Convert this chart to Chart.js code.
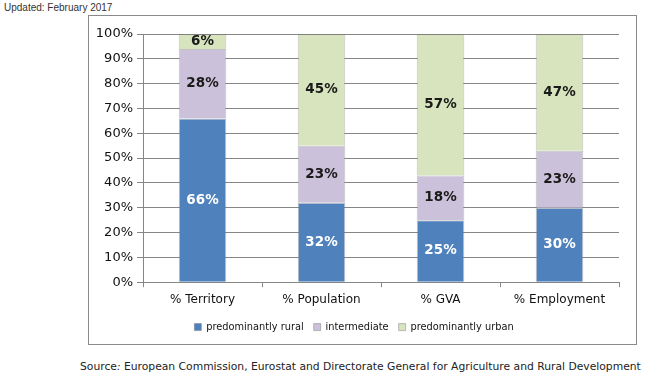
<!DOCTYPE html>
<html>
<head>
<meta charset="utf-8">
<script src="https://cdn.jsdelivr.net/npm/chart.js@4"></script>
<style>
  html, body { margin: 0; padding: 0; background: #fff; }
  body { width: 650px; height: 381px; position: relative; overflow: hidden; }
  #updated { position: absolute; left: 4px; top: 2px; font: 10px "Liberation Sans", Arial, sans-serif; color: #333; }
  #frame { position: absolute; left: 88px; top: 15px; width: 547px; height: 328px; border: 1px solid #8a8a8a; }
  #frame canvas { display: block; }
  #source { position: absolute; left: 80px; top: 360px; font: 10.75px "DejaVu Sans", Verdana, sans-serif; color: #222; white-space: nowrap; }
  #source i { font-style: italic; }
</style>
</head>
<body>
<div id="updated">Updated: February 2017</div>
<div id="frame"><canvas id="chart" width="547" height="328"></canvas></div>
<div id="source">Source<i>:</i> European Commission, Eurostat and Directorate General for Agriculture and Rural Development</div>
<script>
// Valeurs (en %)
const categories = ['% Territory', '% Population', '% GVA', '% Employment'];
const rural = [66, 32, 25, 30];
const intermediate = [28, 23, 18, 23];
const urban = [6, 45, 57, 47];
const yTicks = [0, 10, 20, 30, 40, 50, 60, 70, 80, 90, 100];

const font = '"DejaVu Sans", Verdana, sans-serif';

// étiquettes au centre de chaque segment
const segLabels = {
  id: 'segLabels',
  afterDatasetsDraw(chart) {
    const ctx = chart.ctx;
    ctx.save();
    ctx.font = 'bold 13.5px ' + font;
    ctx.textAlign = 'center';
    ctx.textBaseline = 'middle';
    chart.data.datasets.forEach((ds, i) => {
      chart.getDatasetMeta(i).data.forEach((bar, j) => {
        const p = bar.getProps(['x', 'y', 'base'], true);
        ctx.fillStyle = i === 0 ? '#ffffff' : '#1a1a1a';
        ctx.fillText(ds.data[j] + '%', p.x, (p.y + p.base) / 2);
      });
    });
    ctx.restore();
  }
};

const cfg = {
  type: 'bar',
  data: {
    labels: categories,
    datasets: [
      { label: 'predominantly rural', data: rural, backgroundColor: '#4f81bd', borderColor: 'rgba(120,120,120,0.45)', borderWidth: 1 },
      { label: 'intermediate', data: intermediate, backgroundColor: '#ccc1da', borderColor: 'rgba(120,120,120,0.45)', borderWidth: 1 },
      { label: 'predominantly urban', data: urban, backgroundColor: '#d7e4bd', borderColor: 'rgba(120,120,120,0.45)', borderWidth: 1 }
    ]
  },
  options: {
    responsive: false,
    animation: false,
    events: [],
    barPercentage: 0.4,
    categoryPercentage: 1,
    layout: { padding: { top: 18, right: 17, left: 0, bottom: 2 } },
    scales: {
      x: {
        stacked: true,
        grid: { drawOnChartArea: false, drawTicks: true, tickLength: 5, color: '#868686', offset: true },
        border: { color: '#868686' },
        ticks: { color: '#111', font: { family: font, size: 12 }, padding: 5 },
        afterFit(s) { s.height = 30; }
      },
      y: {
        stacked: true,
        min: 0,
        max: 100,
        afterBuildTicks(s) { s.ticks = yTicks.map(v => ({ value: v })); },
        grid: { color: '#868686', tickLength: 6 },
        border: { color: '#868686' },
        ticks: { color: '#111', font: { family: font, size: 13 }, padding: 4, callback: v => v + '%' },
        afterFit(s) { s.width = 54; }
      }
    },
    plugins: {
      legend: {
        position: 'bottom',
        labels: { font: { family: font, size: 9.8 }, color: '#111', boxWidth: 7, boxHeight: 7, padding: 10 }
      },
      tooltip: { enabled: false }
    }
  },
  plugins: [segLabels]
};

new Chart(document.getElementById('chart').getContext('2d'), cfg);
</script>
</body>
</html>
